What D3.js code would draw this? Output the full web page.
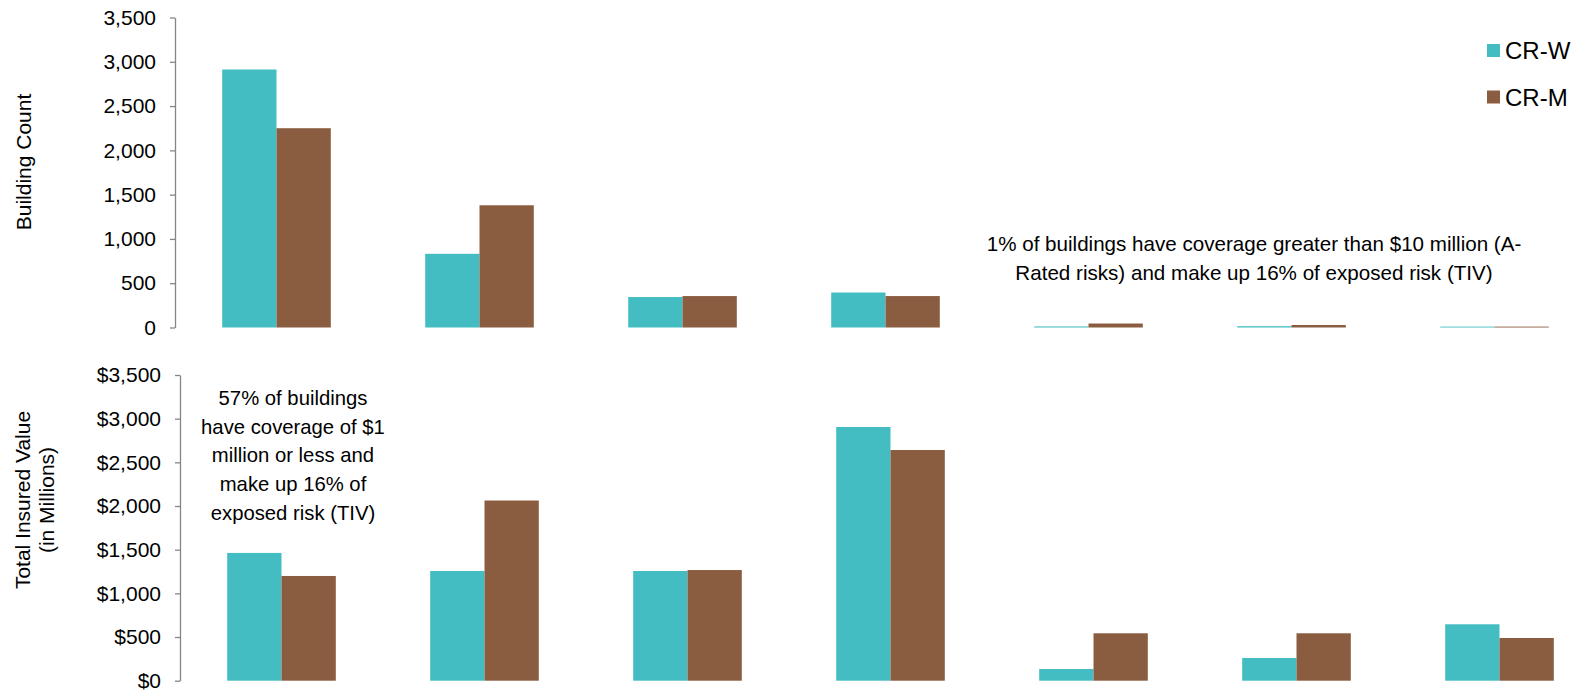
<!DOCTYPE html>
<html><head><meta charset="utf-8">
<script src="https://cdn.jsdelivr.net/npm/d3@7"></script>
<style>body{margin:0;background:#fff;} text{font-family:"Liberation Sans",Arial,sans-serif;fill:#000;}</style>
</head><body><svg id="c" width="1579" height="691"></svg>
<script>
const categories = ["C1","C2","C3","C4","C5","C6","C7"];
const series = ["CR-W","CR-M"];
const countCRW = [2913, 832, 344, 395, 12, 15, 10];
const countCRM = [2250, 1380, 355, 355, 45, 28, 10];
const tivCRW = [1463, 1256, 1256, 2905, 134, 260, 646];
const tivCRM = [1199, 2063, 1267, 2641, 543, 543, 489];
const countTicks = [0,500,1000,1500,2000,2500,3000,3500];
const tivTicks = [0,500,1000,1500,2000,2500,3000,3500];
const colors = {"CR-W":"#43BDC2","CR-M":"#8B5D40"};

const svg = d3.select("#c");
const step = 203;

function panel(opts){
  const x = d3.scaleBand().domain(categories).range([opts.x0, opts.x0 + step*categories.length]).paddingInner(0.465).paddingOuter(0.2325);
  const xs = d3.scaleBand().domain(series).range([0, x.bandwidth()]);
  const y = d3.scaleLinear().domain([0,3500]).range([opts.yb, opts.yt]);
  const g = svg.append("g");
  const rows = categories.map((c,i)=>({c, v:{"CR-W":opts.w[i],"CR-M":opts.m[i]}}));
  const grp = g.selectAll("g.grp").data(rows).join("g").attr("transform", d=>`translate(${x(d.c)},0)`);
  grp.selectAll("rect").data(d=>series.map(s=>({s, v:d.v[s]}))).join("rect")
    .attr("x", d=>xs(d.s)).attr("width", xs.bandwidth())
    .attr("y", d=>y(d.v)).attr("height", d=>y(0)-y(d.v))
    .attr("fill", d=>colors[d.s]);
  const ax = g.append("g").attr("transform", `translate(${opts.x0},0)`)
    .call(d3.axisLeft(y).tickValues(opts.ticks).tickSizeInner(5).tickSizeOuter(0).tickPadding(14).tickFormat(opts.fmt));
  ax.select(".domain").attr("stroke","#868686").attr("stroke-width",1.3);
  ax.selectAll(".tick line").attr("stroke","#868686").attr("stroke-width",1.3);
  ax.selectAll(".tick text").style("font-size","21px").style("font-family",'"Liberation Sans",Arial,sans-serif').attr("fill","#000");
  return {x,y};
}

panel({x0:175, yb:327.5, yt:17.5, w:countCRW, m:countCRM, ticks:countTicks, fmt:d3.format(",")});
panel({x0:180, yb:680.7, yt:375, w:tivCRW, m:tivCRM, ticks:tivTicks, fmt:d=>"$"+d3.format(",")(d)});

// axis titles
svg.append("text").attr("transform","translate(31,162) rotate(-90)").attr("text-anchor","middle").style("font-size","21px").text("Building Count");
const t2 = svg.append("text").attr("transform","translate(0,500) rotate(-90)").attr("text-anchor","middle").style("font-size","21px");
t2.append("tspan").attr("x",0).attr("y",30).text("Total Insured Value");
t2.append("tspan").attr("x",0).attr("y",54).text("(in Millions)");

// legend
series.forEach((s,i)=>{
  svg.append("rect").attr("x",1487).attr("y",44+i*46.5).attr("width",13).attr("height",13).attr("fill",colors[s]);
  svg.append("text").attr("x",1505).attr("y",59+i*46.5).style("font-size","24px").text(s);
});

// annotations
const a1 = svg.append("text").attr("text-anchor","middle").style("font-size","20.6px");
["1% of buildings have coverage greater than $10 million (A-","Rated risks) and make up 16% of exposed risk (TIV)"].forEach((l,i)=>
  a1.append("tspan").attr("x",1254).attr("y",251+i*29).text(l));
const a2 = svg.append("text").attr("text-anchor","middle").style("font-size","20.3px");
["57% of buildings","have coverage of $1","million or less and","make up 16% of","exposed risk (TIV)"].forEach((l,i)=>
  a2.append("tspan").attr("x",293).attr("y",405+i*28.7).text(l));
</script></body></html>
